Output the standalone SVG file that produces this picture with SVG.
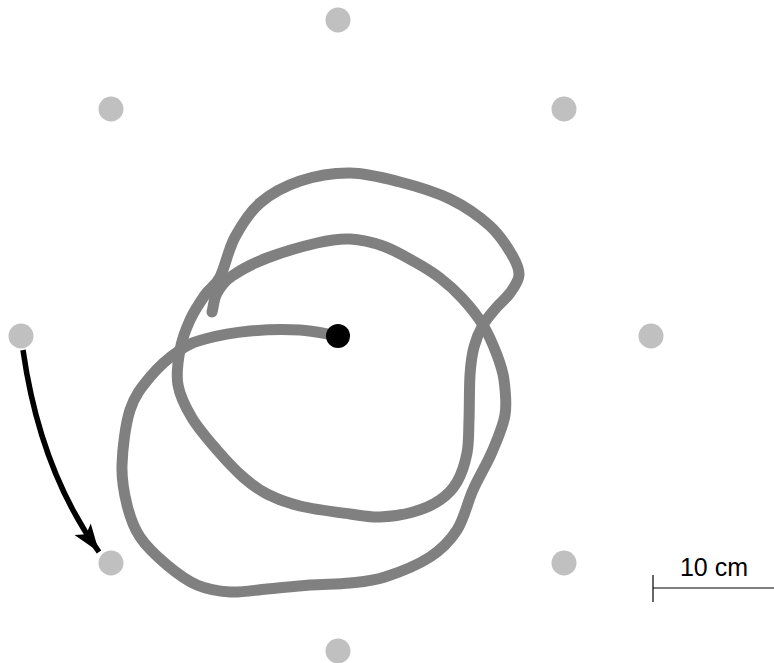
<svg xmlns="http://www.w3.org/2000/svg" width="774" height="663" viewBox="0 0 774 663">
<style>
.anchor{fill:#c0c0c0}
.track{fill:none;stroke:#808080;stroke-width:11;stroke-linecap:round;stroke-linejoin:round}
.arrow{fill:none;stroke:#000;stroke-width:5.5}
.scale{stroke:#000;stroke-width:1.2;fill:none}
.lbl{font-family:"Liberation Sans",Arial,sans-serif;font-size:25px;fill:#000}
</style>
<defs>
<marker id="head" markerUnits="userSpaceOnUse" markerWidth="32" markerHeight="22" refX="30" refY="11" orient="auto" overflow="visible">
<path d="M30,11 L2,1 L8,11 L2,21 Z" fill="#000"/>
</marker>
</defs>
<rect width="774" height="663" fill="#fff"/>
<g id="anchors">
<circle id="a-top" class="anchor" cx="338" cy="20" r="12.5"/>
<circle id="a-tl" class="anchor" cx="111" cy="109" r="12.5"/>
<circle id="a-tr" class="anchor" cx="564" cy="109" r="12.5"/>
<circle id="a-left" class="anchor" cx="21" cy="336" r="12.5"/>
<circle id="a-right" class="anchor" cx="651" cy="336" r="12.5"/>
<circle id="a-bl" class="anchor" cx="111" cy="563" r="12.5"/>
<circle id="a-br" class="anchor" cx="564" cy="563" r="12.5"/>
<circle id="a-bottom" class="anchor" cx="338" cy="651" r="12.5"/>
</g>
<g id="track">
<path class="track" d="M338,336 C325.3,334 314.7,330.8 300,330 S265.8,329.5 250,331 S216.7,335.8 205,339 S189.2,343.7 180,350 S158.3,367 150,377 S134.7,395.3 130,410 S122.5,449.2 122,465 S124,493 127,505 S133.3,527 140,537 S157.5,557 167,565 S186.5,580.5 197,585 S218.3,591.3 230,592 S253.7,590.2 267,589 S296.2,586 310,585 S337.5,584.3 350,583 S371.7,581.3 385,577 S418,564.8 430,557 S449.8,541.2 457,530 S467.2,503 473,490 S486.7,464.5 492,452 S503,427 505,415 S505.3,390 504,380 S500.5,364.2 497,355 S488.8,334.5 483,325 S469.2,305.8 462,298 S447.8,284 440,278 S424.5,267.3 415,262 S393.8,249.8 383,246 S361,239.5 350,239 S330.8,239.8 317,243 S281.2,252.5 267,258 S240.3,270.2 232,276 S220.3,287 217,293 S213.7,305.7 212,312"/>
<path class="track" d="M220,277 C225,267.3 228.3,249.3 235,237 S249.2,212.3 260,203 S285,186 300,181 S333.3,172.8 350,173 S383.3,177.7 400,182 S435,191.7 450,199 S479.7,216.7 490,226 S507.2,246.8 512,255 S519.3,268.7 519,275 S513.8,287.5 510,293 S500.5,302.7 496,308 S486.7,318.5 483,325 S476.2,338.7 474,347 S470.8,362.8 470,375 S469.5,407 469,420 S469,442.7 467,453 S461.5,474.2 457,482 S447.3,495 440,500 S423,509.2 413,512 S390.5,516.7 380,517 S363.3,515.8 350,514 S313.8,509.3 300,506 S276.5,498.8 267,494 S251.3,484.3 243,477 S225.5,459.8 217,450 S198.5,428.8 192,418 S180,396.3 178,385 S178,360.8 180,350 S185.8,329.2 190,320 S200,302.2 205,295 S215,286.7 220,277 Z"/>
</g>
<g id="start">
<circle cx="338" cy="336" r="12" fill="#000"/>
</g>
<g id="connectors">
<path class="arrow" d="M23,350 Q40,470 99,552" marker-end="url(#head)"/>
</g>
<g id="scalebar">
<line class="scale" x1="653" y1="575" x2="653" y2="602"/>
<line class="scale" x1="653" y1="588" x2="774" y2="588"/>
<text class="lbl" x="714" y="576" text-anchor="middle">10 cm</text>
</g>
</svg>
